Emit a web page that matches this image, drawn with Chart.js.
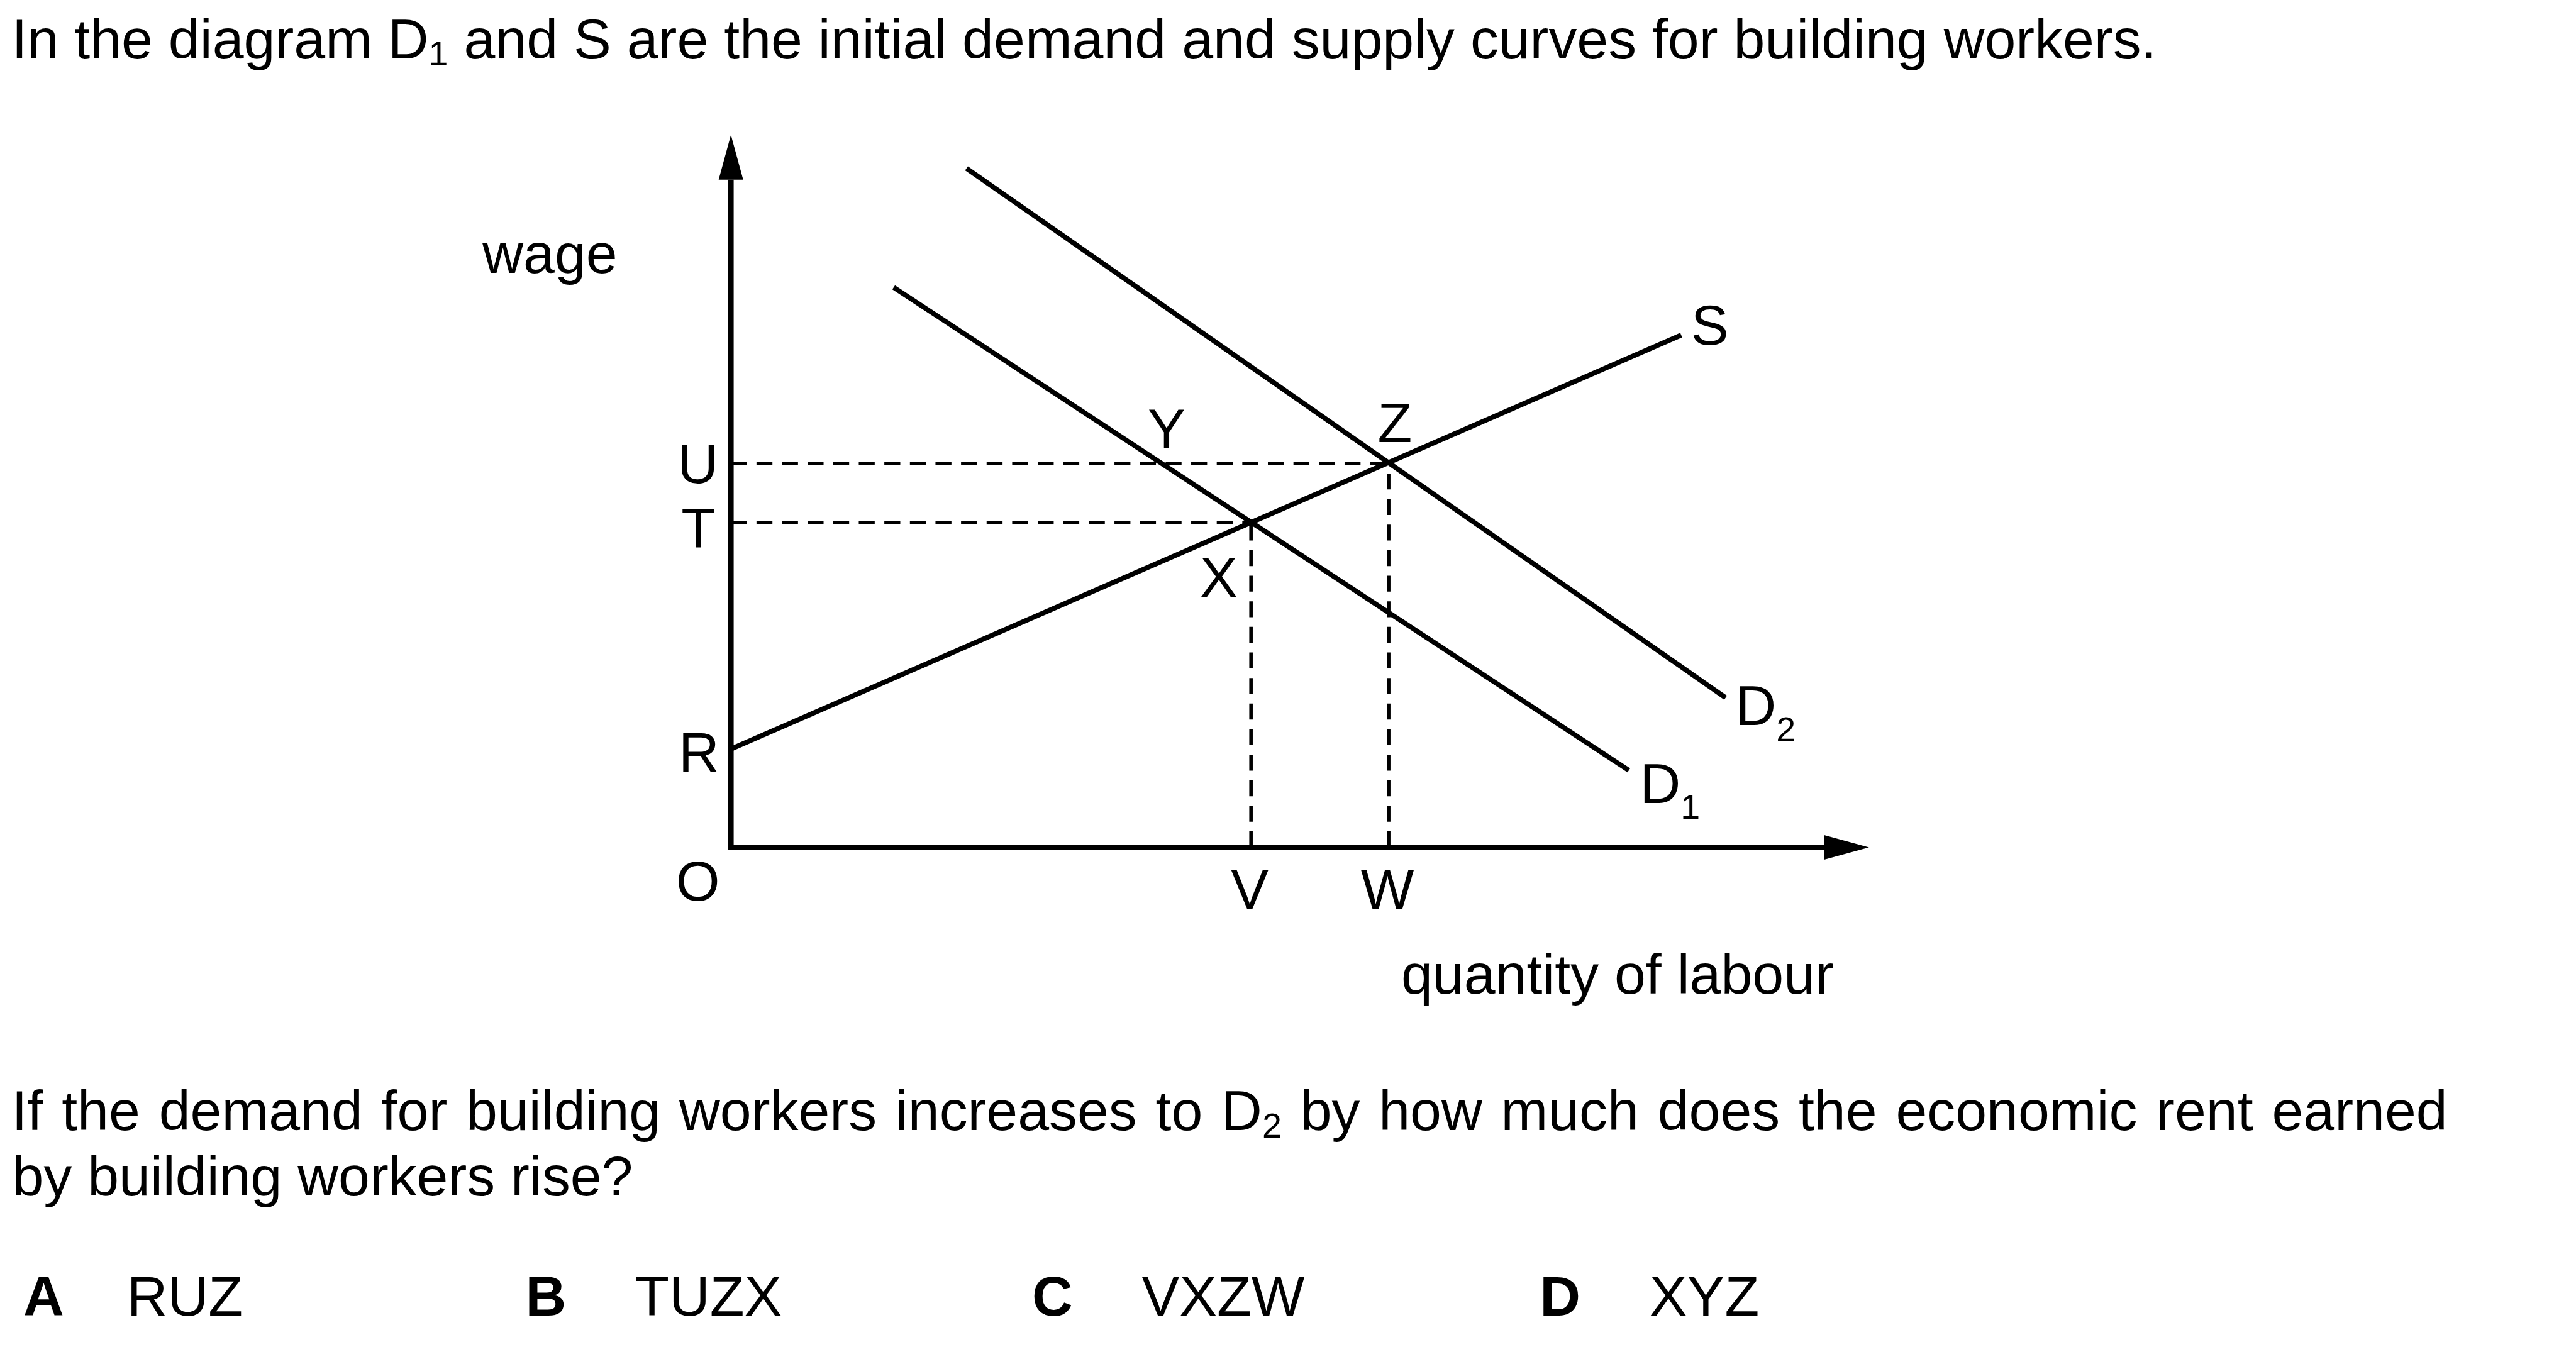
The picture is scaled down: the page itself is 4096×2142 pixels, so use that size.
<!DOCTYPE html>
<html>
<head>
<meta charset="utf-8">
<script src="https://cdn.jsdelivr.net/npm/chart.js@4.4.1/dist/chart.umd.min.js"></script>
<style>
  html, body { margin: 0; padding: 0; background: #fff; width: 4096px; height: 2142px; overflow: hidden; }
  #wrap { position: absolute; left: 0; top: 0; width: 4096px; height: 2142px; }
  #c { position: absolute; left: 0; top: 0; }
  .t { position: absolute; left: 0; top: 0; white-space: pre; font-family: "Liberation Sans", Arial, sans-serif;
       font-size: 89.7px; line-height: 1; color: #000; }
  .sub { font-size: 55.6px; position: relative; top: 11.7px; }
  .b { font-weight: bold; }
  .m { display: inline-block; width: 0; height: 0; vertical-align: baseline; }
</style>
</head>
<body>
<div id="wrap"><canvas id="c" width="4096" height="2142"></canvas></div>
<script>
// ---------------- data ----------------
const xMax = 100;                 // quantity of labour axis (arbitrary units)
const yMax = 100;                 // wage axis (arbitrary units)
const wageNames  = ['R', 'T', 'U'];
const wageValues = [13.8, 45.6, 53.9];
const qtyNames   = ['V', 'W'];
const qtyValues  = [45.7, 57.8];
const supplyX = [0, 83.5];
const supplyY = [13.8, 71.9];
const d1X = [14.3, 78.9];
const d1Y = [78.6, 10.8];
const d2X = [20.7, 87.4];
const d2Y = [95.3, 21.0];
const pointNames = ['X', 'Y', 'Z'];
const pointX = [45.7, 37.8, 57.8];
const pointY = [45.6, 53.9, 53.9];
const axisTitleY = 'wage';
const axisTitleX = 'quantity of labour';
const originLabel = 'O';
const curveNames = ['S', 'D', 'D'];
const curveSubs  = ['', '1', '2'];
const titleParts = ['In the diagram D', '1', ' and S are the initial demand and supply curves for building workers.'];
const questionLine1 = ['If the demand for building workers increases to D', '2', ' by how much does the economic rent earned'];
const questionLine2 = 'by building workers rise?';
const answerKeys  = ['A', 'B', 'C', 'D'];
const answerTexts = ['RUZ', 'TUZX', 'VXZW', 'XYZ'];

// ---------------- layout / style ----------------
const K = 0.975;                       // reference -> window scale
const INK = '#000';
const FONT = '"Liberation Sans", Arial, sans-serif';
const FS = 92 * K, FS_SUB = 57 * K, SUB_DROP = 26 * K;
const AXIS_W = 9 * K, CURVE_W = 8 * K, DASH_W = 5.7 * K;
const DASH = [26 * K, 15.7 * K];
const ARROW_LEN = 73 * K, ARROW_HALF = 20 * K;

const wrap = document.getElementById('wrap');

function placeText(html, leftRef, baseRef, wordSpacing) {
  const d = document.createElement('div');
  d.className = 't';
  if (wordSpacing) d.style.wordSpacing = wordSpacing + 'px';
  d.innerHTML = html + '<span class="m"></span>';
  wrap.appendChild(d);
  const m = d.querySelector('.m');
  const off = m.getBoundingClientRect().bottom - d.getBoundingClientRect().top;
  d.style.left = (leftRef * K) + 'px';
  d.style.top = (baseRef * K - off) + 'px';
}
function withSub(parts) {
  return parts[0] + '<span class="sub">' + parts[1] + '</span>' + parts[2];
}
placeText(withSub(titleParts), 19, 95);
placeText(withSub(questionLine1), 19, 1843, 4.9);
placeText(questionLine2, 20, 1950);
const ansKeyLeft = [38, 857, 1683, 2511];
const ansTextLeft = [207, 1035, 1862, 2690];
answerKeys.forEach((k, i) => {
  placeText('<span class="b">' + k + '</span>', ansKeyLeft[i], 2146);
  placeText(answerTexts[i], ansTextLeft[i], 2146);
});

// ---------------- chart ----------------
function seg(xs, ys) { return xs.map((v, i) => ({ x: v, y: ys[i] })); }
const iT = wageNames.indexOf('T'), iU = wageNames.indexOf('U');
const iV = qtyNames.indexOf('V'), iW = qtyNames.indexOf('W');

const solid = { showLine: true, borderColor: INK, borderWidth: CURVE_W, pointRadius: 0, fill: false, clip: false, order: 1 };
const dashed = { showLine: true, borderColor: INK, borderWidth: DASH_W, borderDash: DASH, pointRadius: 0, fill: false, clip: false, order: 2 };

const datasets = [
  Object.assign({ label: 'S',  data: seg(supplyX, supplyY) }, solid),
  Object.assign({ label: 'D1', data: seg(d1X, d1Y) }, solid),
  Object.assign({ label: 'D2', data: seg(d2X, d2Y) }, solid),
  Object.assign({ label: 'U-level', data: [{ x: 0, y: wageValues[iU] }, { x: qtyValues[iW], y: wageValues[iU] }] }, dashed),
  Object.assign({ label: 'T-level', data: [{ x: 0, y: wageValues[iT] }, { x: qtyValues[iV], y: wageValues[iT] }] }, dashed),
  Object.assign({ label: 'V-qty', data: [{ x: qtyValues[iV], y: 0 }, { x: qtyValues[iV], y: wageValues[iT] }] }, dashed),
  Object.assign({ label: 'W-qty', data: [{ x: qtyValues[iW], y: 0 }, { x: qtyValues[iW], y: wageValues[iU] }] }, dashed)
];

// label offsets in reference pixels relative to their anchors
const wageLabelOff = { R: [-52, 37], T: [-53, 41], U: [-54, 31.5] };
const qtyLabelOff  = { V: [-2, 100], W: [-2, 100] };
const pointLabelOff = { X: [-52.5, 121], Y: [9, -24.5], Z: [10, -34.5] };
const curveLabelOff = [[46.5, 16, 'center'], [18, 53, 'left'], [16, 45, 'left']];

const axesPlugin = {
  id: 'econAxes',
  beforeDatasetsDraw(chart) {
    const { ctx, scales: { x, y } } = chart;
    const x0 = x.getPixelForValue(0), y0 = y.getPixelForValue(0);
    const yTop = y.getPixelForValue(yMax), xEnd = x.getPixelForValue(xMax);
    ctx.save();
    ctx.strokeStyle = INK; ctx.fillStyle = INK; ctx.lineWidth = AXIS_W; ctx.lineCap = 'butt';
    ctx.beginPath(); ctx.moveTo(x0, y0 + AXIS_W / 2); ctx.lineTo(x0, yTop + ARROW_LEN); ctx.stroke();
    ctx.beginPath(); ctx.moveTo(x0 - AXIS_W / 2, y0); ctx.lineTo(xEnd - ARROW_LEN, y0); ctx.stroke();
    ctx.beginPath(); ctx.moveTo(x0, yTop); ctx.lineTo(x0 - ARROW_HALF, yTop + ARROW_LEN); ctx.lineTo(x0 + ARROW_HALF, yTop + ARROW_LEN); ctx.closePath(); ctx.fill();
    ctx.beginPath(); ctx.moveTo(xEnd, y0); ctx.lineTo(xEnd - ARROW_LEN, y0 - ARROW_HALF); ctx.lineTo(xEnd - ARROW_LEN, y0 + ARROW_HALF); ctx.closePath(); ctx.fill();
    ctx.restore();
  },
  afterDatasetsDraw(chart) {
    const { ctx, scales: { x, y } } = chart;
    const px = v => x.getPixelForValue(v), py = v => y.getPixelForValue(v);
    ctx.save();
    ctx.fillStyle = INK;
    ctx.textBaseline = 'alphabetic';
    const main = FS + 'px ' + FONT, sub = FS_SUB + 'px ' + FONT;
    function txt(s, xx, yy, align) { ctx.font = main; ctx.textAlign = align || 'center'; ctx.fillText(s, xx, yy); }
    // wage levels
    wageNames.forEach((n, i) => {
      const o = wageLabelOff[n];
      txt(n, px(0) + o[0] * K, py(wageValues[i]) + o[1] * K);
    });
    txt(originLabel, px(0) - 54 * K, py(0) + 87 * K);
    qtyNames.forEach((n, i) => {
      const o = qtyLabelOff[n];
      txt(n, px(qtyValues[i]) + o[0] * K, py(0) + o[1] * K);
    });
    pointNames.forEach((n, i) => {
      const o = pointLabelOff[n];
      txt(n, px(pointX[i]) + o[0] * K, py(pointY[i]) + o[1] * K);
    });
    // curve labels at curve ends
    const ends = [[supplyX[1], supplyY[1]], [d1X[1], d1Y[1]], [d2X[1], d2Y[1]]];
    curveNames.forEach((n, i) => {
      const o = curveLabelOff[i];
      const bx = px(ends[i][0]) + o[0] * K, by = py(ends[i][1]) + o[1] * K;
      txt(n, bx, by, o[2]);
      if (curveSubs[i]) {
        ctx.font = main;
        const w = ctx.measureText(n).width;
        ctx.font = sub; ctx.textAlign = 'left';
        ctx.fillText(curveSubs[i], bx + w, by + SUB_DROP);
      }
    });
    // axis titles
    txt(axisTitleY, px(0) - 405 * K, py(yMax) + 225 * K, 'left');
    txt(axisTitleX, px(0) + 1093 * K, py(0) + 239 * K, 'left');
    ctx.restore();
  }
};

new Chart(document.getElementById('c'), {
  type: 'scatter',
  data: { datasets },
  options: {
    responsive: false,
    animation: false,
    devicePixelRatio: 1,
    events: [],
    layout: { padding: { left: 1192 * K, top: 220 * K, right: 4096 - 3048 * K, bottom: 2142 - 1382 * K } },
    scales: {
      x: { type: 'linear', min: 0, max: xMax, display: false },
      y: { type: 'linear', min: 0, max: yMax, display: false }
    },
    plugins: { legend: { display: false }, tooltip: { enabled: false } },
    elements: { line: { tension: 0, borderCapStyle: 'butt' } }
  },
  plugins: [axesPlugin]
});
</script>
</body>
</html>
